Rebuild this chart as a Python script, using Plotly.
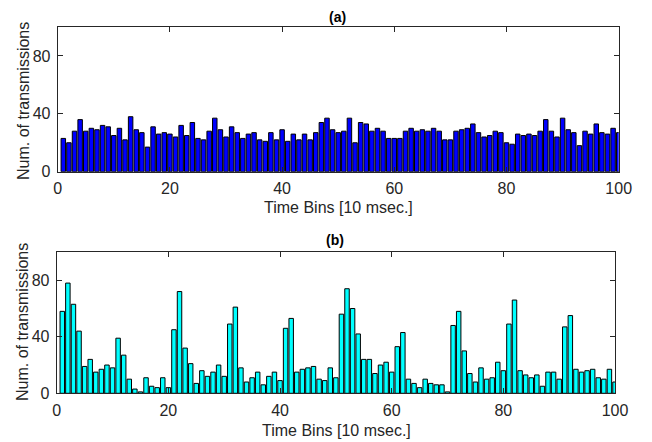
import plotly.graph_objects as go

bins = list(range(1, 101))

series_a = [23, 20, 28, 36, 28, 30, 29, 32, 31, 25,
            30, 22, 38, 29, 27, 17, 31, 26, 27, 26,
            24, 32, 25, 34, 23, 22, 28, 37, 29, 24,
            31, 27, 23, 26, 27, 22, 21, 27, 22, 29,
            21, 26, 22, 26, 22, 27, 34, 37, 29, 27,
            28, 37, 20, 34, 33, 28, 30, 28, 23, 23,
            23, 28, 30, 28, 29, 28, 30, 28, 22, 22,
            28, 29, 30, 33, 27, 24, 25, 28, 27, 20,
            19, 26, 25, 26, 25, 28, 36, 28, 24, 37,
            29, 27, 18, 28, 26, 33, 27, 26, 30, 27]

series_b = [58, 78, 63, 44, 19, 24, 15, 17, 20, 18,
            39, 27, 10, 3, 1, 11, 5, 4, 11, 4,
            45, 72, 32, 21, 7, 16, 12, 15, 20, 12,
            49, 61, 18, 8, 11, 15, 6, 12, 15, 9,
            46, 53, 15, 17, 18, 19, 10, 9, 18, 11,
            56, 74, 60, 42, 24, 24, 14, 20, 22, 15,
            33, 43, 10, 7, 4, 10, 7, 6, 6, 1,
            48, 58, 30, 14, 8, 18, 10, 11, 22, 16,
            49, 66, 16, 13, 11, 13, 5, 15, 15, 10,
            47, 55, 17, 15, 16, 17, 11, 10, 17, 8]

x_ticks = [0, 20, 40, 60, 80, 100]
y_ticks = [0, 40, 80]
x_title = "Time Bins [10 msec.]"
y_title = "Num. of transmissions"
panel_titles = ["(a)", "(b)"]

# page body has an 8px default margin; size the figure to fill the rest
OFF = 8
W, H = 652 - OFF, 442 - OFF
FONT = "Liberation Sans, Arial, Helvetica, sans-serif"
AX = "#262626"
FS = 16

fig = go.Figure()
fig.add_trace(go.Bar(x=bins, y=series_a, xaxis="x", yaxis="y",
                     marker=dict(color="#0000ff", line=dict(color="black", width=1)),
                     width=0.8, showlegend=False))
fig.add_trace(go.Bar(x=bins, y=series_b, xaxis="x2", yaxis="y2",
                     marker=dict(color="#00ffff", line=dict(color="black", width=1)),
                     width=0.8, showlegend=False))

def px_x(v):
    return (v - OFF) / W

def px_y(v):
    return 1 - (v - OFF) / H

top_x = [px_x(57.7), px_x(618.7)]
top_y = [px_y(171.7), px_y(27)]
bot_x = [px_x(56.7), px_x(615)]
bot_y = [px_y(393.3), px_y(252)]

common_x = dict(range=[0, 100], tickvals=x_ticks, ticks="inside", ticklen=5,
                tickcolor=AX, showline=True, linecolor=AX, linewidth=1,
                mirror="ticks", showgrid=False, zeroline=False, automargin=False,
                ticklabelstandoff=2,
                tickfont=dict(size=FS, color=AX, family=FONT))
common_y = dict(range=[0, 100], tickvals=y_ticks, ticks="inside", ticklen=5,
                tickcolor=AX, showline=True, linecolor=AX, linewidth=1,
                mirror="ticks", showgrid=False, zeroline=False, automargin=False,
                ticklabelstandoff=3,
                tickfont=dict(size=FS, color=AX, family=FONT))

fig.update_layout(
    width=W, height=H,
    margin=dict(l=0, r=0, t=0, b=0, autoexpand=False),
    paper_bgcolor="white", plot_bgcolor="white",
    font=dict(family=FONT, color=AX),
    xaxis=dict(domain=top_x, anchor="y", **common_x),
    yaxis=dict(domain=top_y, anchor="x", **common_y),
    xaxis2=dict(domain=bot_x, anchor="y2", **common_x),
    yaxis2=dict(domain=bot_y, anchor="x2", **common_y),
)

def note(text, x, y, size=FS, color=AX, angle=0):
    return dict(text=text, x=px_x(x), y=px_y(y), xref="paper", yref="paper",
                xanchor="center", yanchor="middle", showarrow=False, textangle=angle,
                font=dict(size=size, color=color, family=FONT))

annos = [
    note("<b>" + panel_titles[0] + "</b>", 337, 17, size=14, color="black"),
    note("<b>" + panel_titles[1] + "</b>", 335, 240, size=14, color="black"),
    note(x_title, 338, 207),
    note(x_title, 336, 430),
    note(y_title, 23, 101, angle=-90),
    note(y_title, 22, 322, angle=-90),
]
fig.update_layout(annotations=annos)

fig.write_html("out.html")
